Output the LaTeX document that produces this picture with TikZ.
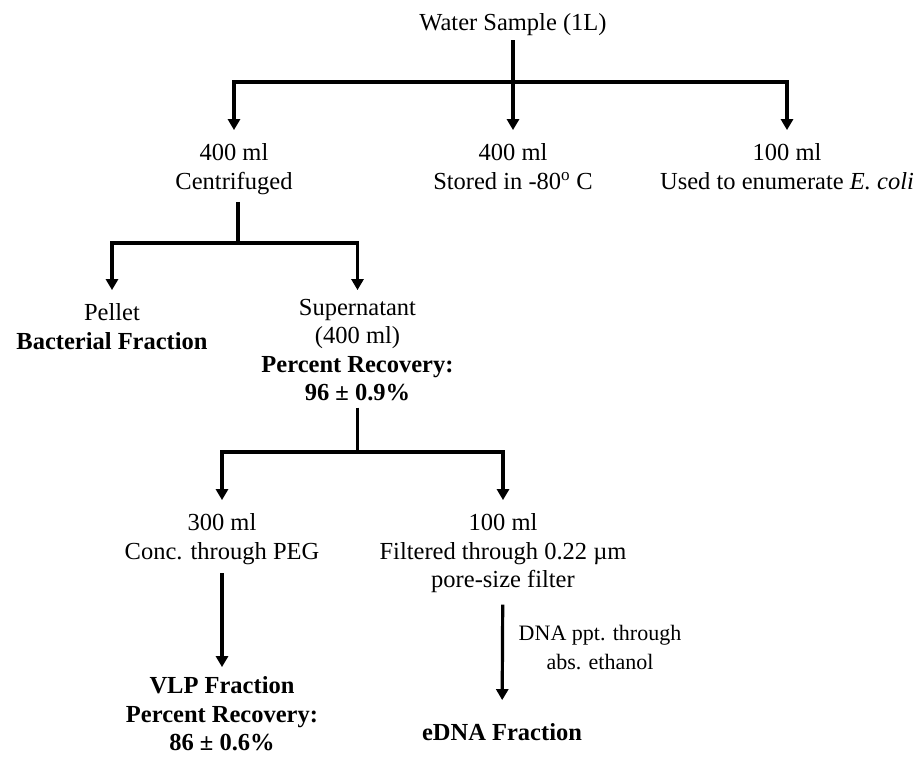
\documentclass[tikz,border=0pt]{standalone}
\usepackage{fontspec}
\setmainfont{Liberation Serif}
\usetikzlibrary{arrows.meta}
\begin{document}
\begin{tikzpicture}[x=1pt, y=-1pt,
    every node/.style={align=center, anchor=north, inner sep=2pt, font=\fontsize{24.5}{28.5}\selectfont},
    link/.style={line width=3.2pt},
    stem/.style={link, shorten <=5pt},
    arr/.style={link, -{Triangle[width=12pt, length=11pt]}, shorten >=11.5pt}]
  \useasboundingbox (0,0) rectangle (921,756);

  % Top - the whole sample and its three parts
  \node (water) at (513, 11.5) {Water Sample (1L)};
  \node (s1) at (234, 141.6) {400 ml\\Centrifuged};
  \node (s2) at (513, 141.6) {400 ml\\Stored in -80\textsuperscript{o} C};
  \node (s3) at (787, 141.6) {100 ml\\Used to enumerate \textit{E. coli}};
  \coordinate (j1) at (513, 82);

  \draw[arr, stem, shorten <=2pt] (water) -- (s2);
  \draw[arr] (j1) -| (s1);
  \draw[arr] (j1) -| (s3);

  % Middle - after centrifuging
  \node (pellet) at (112, 301.6) {Pellet\\\textbf{Bacterial Fraction}};
  \node (super) at (357.5, 296.6) {Supernatant\\(400 ml)\\\textbf{Percent Recovery:}\\\textbf{96 ± 0.9\%}};
  \coordinate (j2) at (238, 243);

  \draw[stem] (s1.south -| j2) -- (j2);
  \draw[arr] (j2) -| (pellet);
  \draw[arr, shorten >=6.5pt] (j2) -| (super);

  % Bottom - splitting the supernatant
  \node (c300) at (222, 511.6) {300 ml\\Conc. through PEG};
  \node (c100) at (503, 511.6) {100 ml\\Filtered through 0.22 µm\\pore-size filter};
  \coordinate (j3) at (357.5, 452);

  \draw[stem, shorten <=4.5pt] (super) -- (j3);
  \draw[arr] (j3) -| (c300);
  \draw[arr] (j3) -| (c100);

  % Fractions
  \node (vlp) at (222, 674.6) {\textbf{VLP Fraction}\\\textbf{Percent Recovery:}\\\textbf{86 ± 0.6\%}};
  \node (edna) at (502, 721.6) {\textbf{eDNA Fraction}};
  \node[font=\fontsize{22}{28.5}\selectfont] (ppt) at (600, 623.3) {DNA ppt. through\\abs. ethanol};

  \draw[arr, stem, shorten <=6.5pt, shorten >=7.5pt] (c300) -- (vlp);
  \draw[arr, stem, shorten <=9.5pt, shorten >=21.5pt] (c100) -- (edna);
\end{tikzpicture}
\end{document}
